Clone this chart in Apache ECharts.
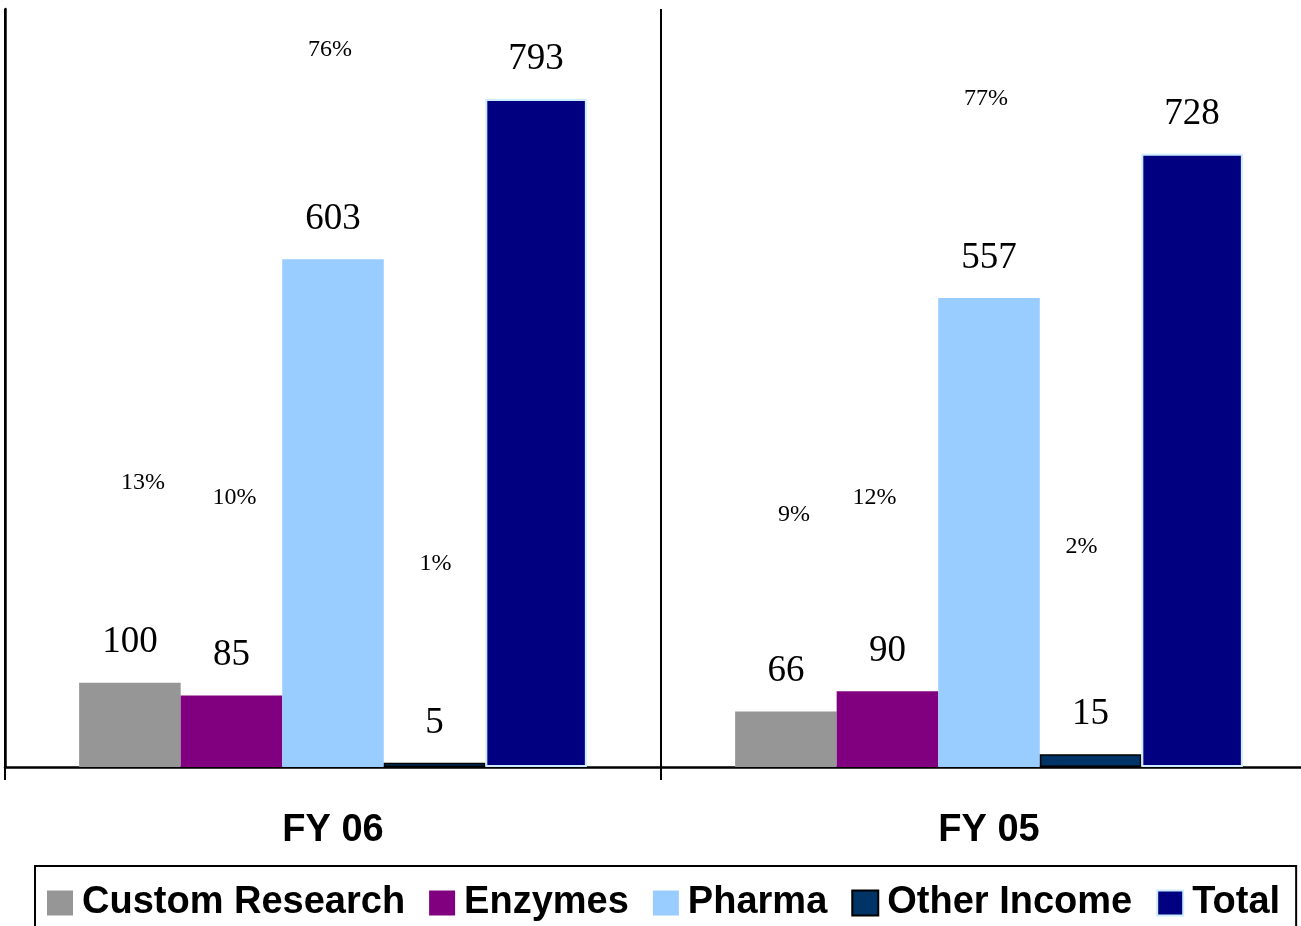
<!DOCTYPE html>
<html>
<head>
<meta charset="utf-8">
<script src="https://cdn.jsdelivr.net/npm/echarts@6/dist/echarts.min.js"></script>
<style>
html,body{margin:0;padding:0;background:#fff;}
#chart{width:1301px;height:926px;}
</style>
</head>
<body>
<div id="chart"></div>
<script>
// ---- data ----
const categories = ['FY 06', 'FY 05'];
const seriesNames = ['Custom Research', 'Enzymes', 'Pharma', 'Other Income', 'Total'];
const customResearch = [100, 66];
const enzymes = [85, 90];
const pharma = [603, 557];
const otherIncome = [5, 15];
const total = [793, 728];
const customResearchPct = ['13%', '9%'];
const enzymesPct = ['10%', '12%'];
const pharmaPct = ['76%', '77%'];
const otherIncomePct = ['1%', '2%'];

// ---- layout: height (in axis units) at which each share label is centred ----
const customResearchPctAt = [338, 300];
const enzymesPctAt = [320, 320];
const pharmaPctAt = [852, 794];
const otherIncomePctAt = [241, 262];
// ---- layout: horizontal nudge (px) of each share label ----
const customResearchPctDx = [13, 8];
const enzymesPctDx = [3, -13];
const pharmaPctDx = [-3, -3];
const otherIncomePctDx = [1, -9];

const colors = ['#969696', '#800080', '#99CCFF', '#003366', '#000080'];
const values = [customResearch, enzymes, pharma, otherIncome, total];
const pcts = [customResearchPct, enzymesPct, pharmaPct, otherIncomePct, null];
const pctAt = [customResearchPctAt, enzymesPctAt, pharmaPctAt, otherIncomePctAt, null];
const pctDx = [customResearchPctDx, enzymesPctDx, pharmaPctDx, otherIncomePctDx, null];
const borders = [null, null, null, {c:'#000', w:1.5}, {c:'#CCECFF', w:2}];

const series = [];
values.forEach((vals, i) => {
  const st = {color: colors[i]};
  if (borders[i]) { st.borderColor = borders[i].c; st.borderWidth = borders[i].w; }
  series.push({
    name: seriesNames[i],
    type: 'bar',
    stack: 's' + i,
    data: vals,
    barGap: '0%',
    barCategoryGap: '22.6%',
    itemStyle: st,
    label: {
      show: true, position: 'top', distance: 40, verticalAlign: 'middle',
      fontFamily: 'Liberation Serif', fontSize: 37, color: '#000'
    }
  });
});
values.forEach((vals, i) => {
  if (!pcts[i]) return;
  const p = pcts[i], at = pctAt[i], dx = pctDx[i];
  series.push({
    name: seriesNames[i] + ' share',
    type: 'bar',
    stack: 's' + i,
    data: vals.map((v, k) => ({value: at[k] - v, label: {offset: [dx[k], 0]}})),
    barGap: '0%',
    barCategoryGap: '22.6%',
    itemStyle: {color: 'transparent'},
    silent: true,
    label: {
      show: true, position: 'top', distance: 0, verticalAlign: 'middle',
      fontFamily: 'Liberation Serif', fontSize: 24, color: '#000',
      formatter: (prm) => p[prm.dataIndex]
    }
  });
});

const chart = echarts.init(document.getElementById('chart'));
chart.setOption({
  animation: false,
  backgroundColor: '#fff',
  grid: {left: 5, width: 1312, top: 9, bottom: 159, containLabel: false, outerBoundsMode: 'none'},
  xAxis: {
    type: 'category',
    data: categories,
    axisLine: {show: true, lineStyle: {color: '#000', width: 2.5}},
    axisTick: {show: true, length: 13, lineStyle: {color: '#000', width: 2}},
    splitLine: {show: true, lineStyle: {color: '#000', width: 2}},
    axisLabel: {margin: 45, fontFamily: 'Liberation Sans', fontWeight: 'bold', fontSize: 38, color: '#000'}
  },
  yAxis: {
    type: 'value', min: 0, max: 900,
    axisLine: {show: true, lineStyle: {color: '#000', width: 2.5}},
    axisTick: {show: false},
    axisLabel: {show: false},
    splitLine: {show: false}
  },
  legend: {
    data: seriesNames,
    left: 35, top: 866, width: 1240,
    orient: 'horizontal',
    padding: [17, 16, 14, 12],
    borderColor: '#000', borderWidth: 2,
    itemWidth: 26, itemHeight: 25, itemGap: 24,
    icon: 'rect',
    textStyle: {fontFamily: 'Liberation Sans', fontWeight: 'bold', fontSize: 38, color: '#000', lineHeight: 40, padding: [0, 0, 0, 4]}
  },
  series: series
});
</script>
</body>
</html>
